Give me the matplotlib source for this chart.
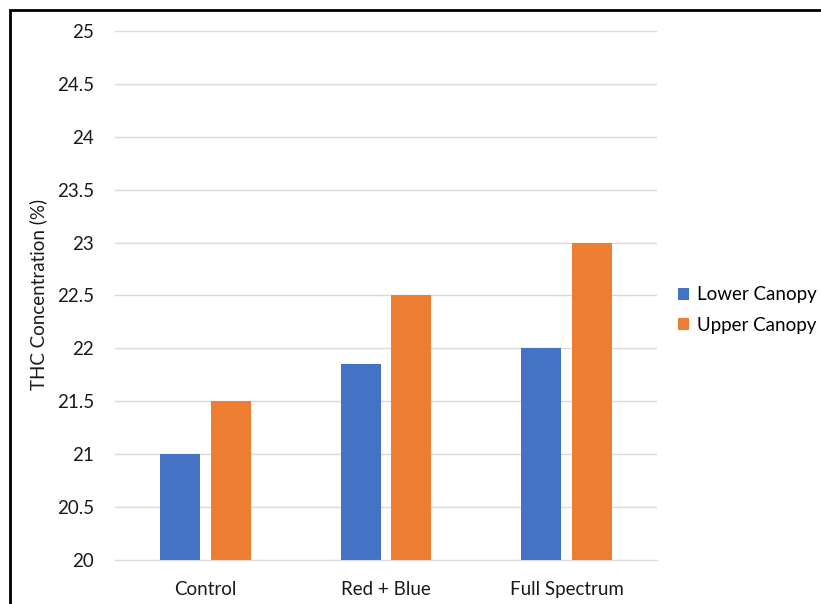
import matplotlib.pyplot as plt
import matplotlib.patches as patches
import numpy as np

categories = ['Control', 'Red + Blue', 'Full Spectrum']
lower_canopy = [21.0, 21.85, 22.0]
upper_canopy = [21.5, 22.5, 23.0]
series_names = ['Lower Canopy', 'Upper Canopy']
y_ticks = [20, 20.5, 21, 21.5, 22, 22.5, 23, 23.5, 24, 24.5, 25]

plt.rcParams['font.family'] = ['Lato', 'DejaVu Sans']

W, H = 821, 604
fs = 13.5
fig = plt.figure(figsize=(W / 100, H / 100), dpi=100)
ax = fig.add_axes([115 / W, 1 - 560 / H, (657 - 115) / W, (560 - 31) / H])

x = np.arange(len(categories))
bw = 0.222
off = 0.14
ax.bar(x - off, lower_canopy, bw, color='#4472c4', label=series_names[0], zorder=3)
ax.bar(x + off, upper_canopy, bw, color='#ed7d31', label=series_names[1], zorder=3)

ax.set_xlim(-0.5, len(categories) - 0.5)
ax.set_ylim(20, 25)
ax.set_yticks(y_ticks)
ax.set_yticklabels([f'{t:g}' for t in y_ticks], fontsize=fs, color='#1a1a1a')
ax.set_xticks(x)
ax.set_xticklabels(categories, fontsize=fs, color='#1a1a1a')
ax.tick_params(length=0)
ax.tick_params(axis='y', pad=15)
ax.tick_params(axis='x', pad=15)
ax.yaxis.grid(True, color='#d9d9d9', linewidth=1, zorder=0)
for s in ['top', 'right', 'left']:
    ax.spines[s].set_visible(False)
ax.spines['bottom'].set_color('#d9d9d9')
ax.set_ylabel('THC Concentration (%)', fontsize=fs, color='#1a1a1a')
ax.yaxis.set_label_coords(47 / W, 1 - 294 / H, transform=fig.transFigure)

ax.legend(loc='center left', bbox_to_anchor=(678 / W, 1 - 310 / H),
          bbox_transform=fig.transFigure, frameon=False, fontsize=fs,
          handlelength=0.6, handleheight=0.6, handletextpad=0.4,
          labelspacing=0.7, borderpad=0, borderaxespad=0)

# outer frame, cropped on the right and bottom
fig.patches.append(patches.Rectangle((10 / W, -0.1), 1.2, 1 - 10 / H + 0.1,
                                     transform=fig.transFigure, fill=False,
                                     edgecolor='black', linewidth=2))

fig.savefig('out.png', dpi=100)
